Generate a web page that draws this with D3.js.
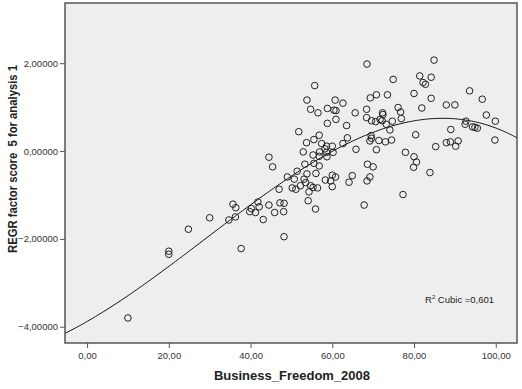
<!DOCTYPE html>
<html>
<head>
<meta charset="utf-8">
<script src="https://cdn.jsdelivr.net/npm/d3@7"></script>
<style>
  body { margin: 0; background: #fff; }
  svg { display: block; font-family: Arial, "Liberation Sans", sans-serif; }
  .tick text { fill: #333; font-size: 9.5px; }
  .axislabel { font-weight: bold; font-size: 13px; fill: #222; }
</style>
</head>
<body>
<div id="chart"></div>
<script>
// Business_Freedom_2008 (x) vs REGR factor score 5 (y)
var freedom = [
  10.0, 20.0, 20.0, 24.8, 30.0, 34.7, 36.3, 35.7, 36.4, 37.7,
  39.8, 40.2, 41.2, 41.8, 42.1, 43.1, 44.5, 45.9, 47.2, 48.2,
  48.1, 48.2, 44.5, 45.4, 49.0, 47.0, 50.2, 51.1, 51.4, 50.7,
  53.1, 53.5, 52.2, 53.8, 53.3, 55.5, 56.8, 56.0, 54.7, 55.3,
  56.4, 54.3, 54.1, 55.9, 58.3, 59.6, 60.0, 60.8, 60.0, 64.1,
  64.9, 68.5, 69.2, 67.8, 77.3, 68.6, 70.0, 80.6, 79.9, 83.9,
  68.5, 84.9, 55.7, 74.9, 81.4, 84.2, 82.2, 82.8, 93.6, 96.7,
  80.0, 84.2, 69.3, 70.8, 73.5, 53.8, 60.7, 62.6, 54.7, 56.5,
  58.8, 60.4, 60.9, 65.6, 68.4, 72.3, 72.4, 76.1, 76.7, 81.9,
  87.9, 90.0, 97.7, 99.9, 92.7, 92.5, 94.3, 94.9, 95.5, 99.8,
  89.0, 80.4, 87.9, 88.9, 90.8, 90.2, 85.3, 68.4, 69.6, 70.6,
  71.7, 72.2, 74.7, 76.9, 74.1, 73.2, 60.9, 58.8, 63.5, 51.8,
  69.5, 69.6, 69.2, 71.4, 73.0, 74.5, 70.8, 65.8, 63.7, 62.6,
  56.8, 55.5, 53.7, 57.4, 58.6, 60.0, 58.2, 52.9, 55.3, 56.9,
  58.6, 60.2, 56.8, 58.7, 77.9, 80.0
];
var factorScore = [
  -3.80, -2.28, -2.35, -1.78, -1.52, -1.57, -1.50, -1.21, -1.29, -2.22,
  -1.38, -1.31, -1.40, -1.16, -1.27, -1.56, -1.23, -1.40, -1.18, -1.19,
  -1.38, -1.95, -0.14, -0.36, -0.59, -0.87, -0.84, -0.87, -0.46, -0.64,
  -0.64, -0.72, -0.79, -0.52, -0.30, -0.28, -0.34, -0.51, -0.79, -0.83,
  -0.84, -0.93, -1.13, -1.32, -0.66, -0.68, -0.55, -0.59, -0.81, -0.71,
  -0.56, -0.68, -0.59, -1.23, -0.99, -0.30, -0.36, -0.25, -0.37, -0.49,
  1.98, 2.07, 1.49, 1.63, 1.71, 1.68, 1.56, 1.52, 1.37, 1.18,
  1.31, 1.20, 1.21, 1.28, 1.28, 1.16, 1.16, 1.09, 0.95, 0.87,
  0.97, 0.93, 0.92, 0.87, 0.95, 0.87, 0.83, 0.99, 0.89, 0.98,
  1.05, 1.05, 0.82, 0.68, 0.68, 0.61, 0.55, 0.54, 0.52, 0.25,
  0.49, 0.37, 0.19, 0.21, 0.23, 0.11, 0.10, 0.76, 0.69, 0.67,
  0.72, 0.69, 0.68, 0.74, 0.48, 0.61, 0.72, 0.63, 0.58, 0.44,
  0.35, 0.29, 0.23, 0.24, 0.21, 0.25, 0.03, 0.04, 0.30, 0.17,
  0.36, 0.26, 0.19, 0.17, 0.11, 0.11, 0.05, -0.02, -0.09, -0.02,
  -0.03, -0.03, -0.12, -0.13, -0.03, -0.13
];
// cubic fit line, a + b*x + c*x^2 + d*x^3
var cubicCoef = [-3.8805, 0.05338, 0.0006055, -0.000006988];
var xTicks = [0, 20, 40, 60, 80, 100];
var yTicks = [-4, -2, 0, 2];
var r2Label = "0,601";

var width = 522, height = 389;
var plot = {left: 65, right: 517, top: 3, bottom: 343};

var svg = d3.select("#chart").append("svg")
    .attr("width", width)
    .attr("height", height);

var x = d3.scaleLinear().domain([-5.4, 105.2]).range([plot.left, plot.right]);
var y = d3.scaleLinear().domain([-4.37, 3.37]).range([plot.bottom, plot.top]);

var comma = function(digits) {
    return function(d) { return d3.format("." + digits + "f")(d).replace(".", ","); };
};

/*========== Plot background ===========*/
svg.append("rect")
    .attr("x", plot.left)
    .attr("y", plot.top)
    .attr("width", plot.right - plot.left)
    .attr("height", plot.bottom - plot.top)
    .attr("fill", "#eeeeee");

var clip = svg.append("clipPath").attr("id", "plotclip")
    .append("rect")
    .attr("x", plot.left)
    .attr("y", plot.top)
    .attr("width", plot.right - plot.left)
    .attr("height", plot.bottom - plot.top);

/*========== Axes ===========*/
var xAxis = svg.append("g")
    .attr("transform", "translate(0," + plot.bottom + ")")
    .call(d3.axisBottom(x).tickValues(xTicks).tickSize(5).tickSizeOuter(0).tickPadding(4).tickFormat(comma(2)));
var yAxis = svg.append("g")
    .attr("transform", "translate(" + plot.left + ",0)")
    .call(d3.axisLeft(y).tickValues(yTicks).tickSize(5).tickSizeOuter(0).tickPadding(2).tickFormat(comma(5)));
svg.selectAll(".domain").remove();
svg.selectAll(".tick line").attr("stroke", "#555");
svg.selectAll(".tick text").attr("font-family", "Arial, 'Liberation Sans', sans-serif");

/*========== Fit line ===========*/
var fit = function(v) {
    return cubicCoef[0] + cubicCoef[1] * v + cubicCoef[2] * v * v + cubicCoef[3] * v * v * v;
};
var curveX = d3.range(x.domain()[0], x.domain()[1] + 0.5, 0.5);
svg.append("path")
    .datum(curveX)
    .attr("clip-path", "url(#plotclip)")
    .attr("fill", "none")
    .attr("stroke", "#111")
    .attr("stroke-width", 1)
    .attr("d", d3.line()
        .x(function (d) { return x(d); })
        .y(function (d) { return y(fit(d)); }));

/*========== Points ===========*/
svg.append("g")
    .selectAll("circle")
    .data(d3.range(freedom.length))
    .enter()
    .append("circle")
    .attr("cx", function (i) { return x(freedom[i]); })
    .attr("cy", function (i) { return y(factorScore[i]); })
    .attr("r", 3.3)
    .attr("fill", "none")
    .attr("stroke", "#222")
    .attr("stroke-width", 1);

/*========== Frame ===========*/
svg.append("rect")
    .attr("x", plot.left)
    .attr("y", plot.top)
    .attr("width", plot.right - plot.left)
    .attr("height", plot.bottom - plot.top)
    .attr("fill", "none")
    .attr("stroke", "#555")
    .attr("stroke-width", 1.5);

/*========== R2 label ===========*/
var r2 = svg.append("text")
    .attr("x", 425)
    .attr("y", 303)
    .attr("font-size", 9.5)
    .attr("fill", "#222");
r2.append("tspan").text("R");
r2.append("tspan").attr("font-size", 6).attr("dy", -4).text("2");
r2.append("tspan").attr("dy", 4).text(" Cubic =" + r2Label);

/*========== Axis titles ===========*/
svg.append("text")
    .attr("class", "axislabel")
    .attr("x", 292)
    .attr("y", 380)
    .attr("text-anchor", "middle")
    .text("Business_Freedom_2008");

// y title is squeezed in the original, so force its length
svg.append("text")
    .attr("class", "axislabel")
    .attr("transform", "translate(17,159) rotate(-90)")
    .attr("text-anchor", "middle")
    .attr("textLength", 188)
    .attr("lengthAdjust", "spacingAndGlyphs")
    .style("white-space", "pre")
    .text("REGR factor score  5 for analysis 1");
</script>
</body>
</html>
